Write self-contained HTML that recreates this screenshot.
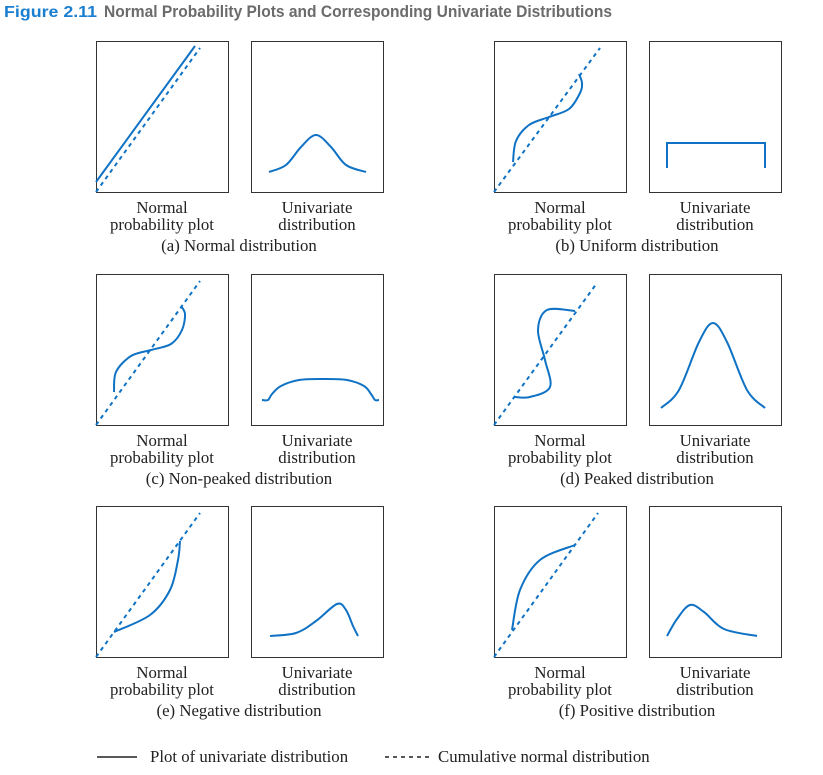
<!DOCTYPE html>
<html><head><meta charset="utf-8"><style>
html,body{margin:0;padding:0;background:#fff;}
svg{display:block;}
.cap{font-family:"Liberation Serif",serif;font-size:16.8px;fill:#222;text-anchor:middle;}
</style></head><body>
<svg id="fig" width="823" height="775" viewBox="0 0 823 775" xmlns="http://www.w3.org/2000/svg">
<text x="4" y="17" font-family="Liberation Sans,sans-serif" font-weight="bold" font-size="16" fill="#1a7fd0" textLength="93" lengthAdjust="spacingAndGlyphs">Figure 2.11</text>
<text x="104" y="17" font-family="Liberation Sans,sans-serif" font-weight="bold" font-size="16.5" fill="#6b6b6b" textLength="508" lengthAdjust="spacingAndGlyphs">Normal Probability Plots and Corresponding Univariate Distributions</text>
<g id="panels"></g>
<line x1="97" y1="757" x2="137" y2="757" stroke="#222" stroke-width="1.5"/>
<text x="150" y="762" class="cap" style="text-anchor:start">Plot of univariate distribution</text>
<line x1="385" y1="757" x2="430" y2="757" stroke="#222" stroke-width="1.5" stroke-dasharray="4,4"/>
<text x="438" y="762" class="cap" style="text-anchor:start">Cumulative normal distribution</text>
</svg>
<script>
// Panel data in local box units (x: 0..132, y: 0..151 from top)
const captions = ["(a) Normal distribution","(b) Uniform distribution","(c) Non-peaked distribution","(d) Peaked distribution","(e) Negative distribution","(f) Positive distribution"];
const plotCurves = [
 [[0,141],[99,5]],
 [[19,121],[22,100],[35,84],[55,76],[75,68],[86,52],[88,42],[85,33]],
 [[18,118],[20,98],[35,82],[55,76],[75,70],[86,56],[89,40],[85,32]],
 [[21,123],[36,123],[56,113],[51,86],[44,56],[53,36],[81,37]],
 [[18,126],[54,109],[74,84],[82,54],[84,35]],
 [[18,124],[26,84],[46,54],[81,39]]
];
const refLines = [
 [[0,151],[104,7]],[[0,151],[106,7]],[[0,151],[104,7]],[[0,151],[103,9]],[[0,151],[104,7]],[[0,151],[104,7]]
];
const distCurves = [
 [[18,131],[35,124],[50,106],[65,94],[80,106],[95,124],[115,131]],
 [[18,127],[18,102],[116,102],[116,127]],
 [[11,126],[17,126],[21,120],[30,112],[48,106],[72,105],[96,106],[113,112],[120,120],[124,126],[128,126]],
 [[12,134],[30,116],[50,68],[64,49],[78,68],[98,116],[116,134]],
 [[19,130],[45,127],[65,115],[86,98],[95,104],[102,120],[107,130]],
 [[18,130],[28,113],[41,99],[55,106],[75,123],[108,130]]
];
const BW=132, BH=151;
const colX=[96,494], rowY=[41,274,506], distOff=155;
const NS="http://www.w3.org/2000/svg";
const g=document.getElementById('panels');
function sx(ox,v){return ox+v;}
function sy(oy,v){return oy+v;}
function smooth(pts,ox,oy){
  const p=pts.map(q=>[sx(ox,q[0]),sy(oy,q[1])]);
  if(p.length<3) return "M"+p.map(q=>q.join(",")).join("L");
  let d="M"+p[0][0]+","+p[0][1];
  for(let i=0;i<p.length-1;i++){
    const p0=p[i-1]||p[i],p1=p[i],p2=p[i+1],p3=p[i+2]||p2;
    const c1=[p1[0]+(p2[0]-p0[0])/6,p1[1]+(p2[1]-p0[1])/6];
    const c2=[p2[0]-(p3[0]-p1[0])/6,p2[1]-(p3[1]-p1[1])/6];
    d+="C"+c1.join(",")+" "+c2.join(",")+" "+p2.join(",");
  }
  return d;
}
function mk(tag,attrs){const e=document.createElementNS(NS,tag);for(const k in attrs)e.setAttribute(k,attrs[k]);g.appendChild(e);return e;}
const BLUE="#0f72c4";
for(let i=0;i<6;i++){
  const ox=colX[i%2], oy=rowY[Math.floor(i/2)], dx=ox+distOff;
  let b=mk('rect',{x:ox+0.5,y:oy+0.5,width:BW,height:BH,fill:'none',stroke:'#333','stroke-width':1});
  
  
  b=mk('rect',{x:dx+0.5,y:oy+0.5,width:BW,height:BH,fill:'none',stroke:'#333','stroke-width':1});
  
  
  let r=mk('path',{d:smooth(refLines[i],ox,oy),fill:'none',stroke:BLUE,'stroke-width':2,'stroke-dasharray':'4,4'});
  
  
  let c=mk('path',{d:smooth(plotCurves[i],ox,oy),fill:'none',stroke:BLUE,'stroke-width':2});
  
  
  const dd = i===1 ? "M"+distCurves[i].map(q=>sx(dx,q[0])+","+sy(oy,q[1])).join("L") : smooth(distCurves[i],dx,oy);
  let dc=mk('path',{d:dd,fill:'none',stroke:BLUE,'stroke-width':2});
  
  
  const lines=[["Normal",ox+66,oy+172],["probability plot",ox+66,oy+189],["Univariate",dx+66,oy+172],["distribution",dx+66,oy+189]];
  lines.forEach(l=>{const t=mk('text',{x:l[1],y:l[2],class:'cap'});t.textContent=l[0];
    
    });
  const t=mk('text',{x:ox+143,y:oy+210,class:'cap'});t.textContent=captions[i];
  
  
}
</script>
</body></html>
